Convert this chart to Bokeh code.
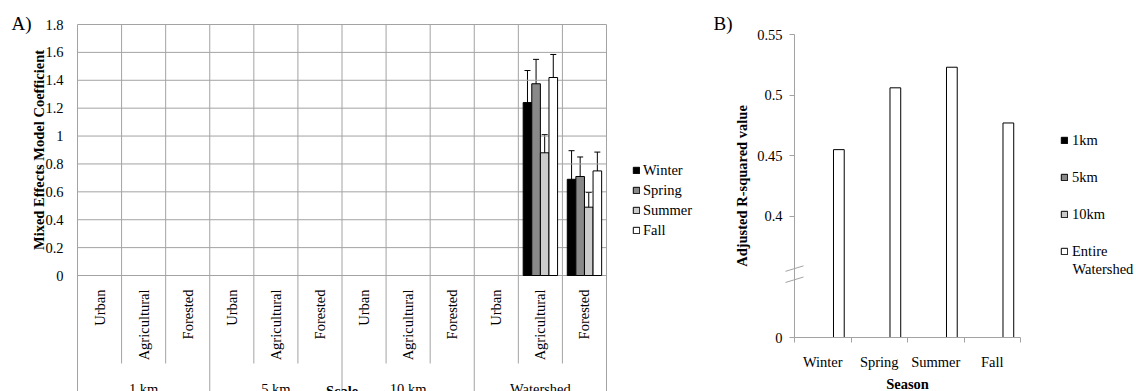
import math
from bokeh.plotting import figure
from bokeh.models import (Range1d, FixedTicker, PrintfTickFormatter, ColumnDataSource,
                          Whisker, TeeHead, Legend, LegendItem)
from bokeh.core.properties import value
from bokeh.layouts import row
from bokeh.embed import file_html
from bokeh.resources import INLINE

NAN = float("nan")

# ---------------- Data: panel A ----------------
scales = ["1 km", "5 km", "10 km", "Watershed"]
land_uses = ["Urban", "Agricultural", "Forested"]
seasons_a = ["Winter", "Spring", "Summer", "Fall"]
coef_winter = [None, None, None, None, None, None, None, None, None, None, 1.24, 0.69]
coef_spring = [None, None, None, None, None, None, None, None, None, None, 1.375, 0.71]
coef_summer = [None, None, None, None, None, None, None, None, None, None, 0.88, 0.49]
coef_fall = [None, None, None, None, None, None, None, None, None, None, 1.42, 0.75]
err_winter = [None, None, None, None, None, None, None, None, None, None, 0.23, 0.205]
err_spring = [None, None, None, None, None, None, None, None, None, None, 0.175, 0.14]
err_summer = [None, None, None, None, None, None, None, None, None, None, 0.13, 0.105]
err_fall = [None, None, None, None, None, None, None, None, None, None, 0.165, 0.135]
y_ticks_a = [0, 0.2, 0.4, 0.6, 0.8, 1.0, 1.2, 1.4, 1.6, 1.8]
title_a = "Mixed Effects Model Coefficient"
xtitle_a = "Scale"

# ---------------- Data: panel B ----------------
seasons_b = ["Winter", "Spring", "Summer", "Fall"]
scale_series = ["1km", "5km", "10km", "Entire"]
scale_series_line2 = ["", "", "", "Watershed"]
r2_1km = [None, None, None, None]
r2_5km = [None, None, None, None]
r2_10km = [None, None, None, None]
r2_watershed = [0.455, 0.506, 0.523, 0.477]
y_ticks_b = [0.3, 0.4, 0.45, 0.5, 0.55]
y_tick_labels_b = ["0", "0.4", "0.45", "0.5", "0.55"]
axis_floor_b = 0.3
axis_top_b = 0.55
break_value_b = 0.35
title_b = "Adjusted R-squared value"
xtitle_b = "Season"

# ---------------- Style ----------------
FONT = "Liberation Serif"
FS = "14.5px"
GRID = "#a3a3a3"
FILLS = ["#000000", "#898989", "#cbcbcb", "#ffffff"]
H = 391


def num(v):
    return NAN if v is None else v


def style_axis_text(ax):
    ax.major_label_text_font = FONT
    ax.major_label_text_font_size = FS
    ax.major_label_text_color = "black"


def bare_figure(w, xr, yr):
    p = figure(width=w, height=H, x_range=xr, y_range=yr, output_backend="svg",
               toolbar_location=None, min_border=0)
    p.title.visible = False
    p.outline_line_color = None
    p.grid.visible = False
    return p


TXT = dict(text_font=value(FONT), text_font_size=value(FS), text_color="black")

# ================= Panel A =================
A_W = 705
A_X0, A_X1 = 77, 606      # pixel of first / last category edge
A_Y0, A_Y1 = 275, 24      # pixel of value 0 / top tick
n_cat = len(scales) * len(land_uses)
kx = (A_X1 - A_X0) / n_cat
ky = (A_Y0 - A_Y1) / y_ticks_a[-1]


def xa_(px):
    return (px - A_X0) / kx


def ya_(py):
    return (A_Y0 - py) / ky


cat_labels = [lu for s in scales for lu in land_uses]
centers = [i + 0.5 for i in range(n_cat)]

pa = bare_figure(A_W, Range1d(xa_(0), xa_(A_W)), Range1d(ya_(H), ya_(0)))

# gridlines: horizontal at ticks, vertical at category edges (extending below as separators)
pa.segment(x0=0, x1=n_cat, y0=y_ticks_a, y1=y_ticks_a, line_color=GRID, line_width=1)
edges = list(range(n_cat + 1))
edge_end = [ya_(H + 5) if e % len(land_uses) == 0 else ya_(363) for e in edges]
pa.segment(x0=edges, x1=edges, y0=[y_ticks_a[-1]] * len(edges), y1=edge_end,
           line_color=GRID, line_width=1)

xa = pa.xaxis[0]
xa.fixed_location = 0
xa.visible = False

ya = pa.yaxis[0]
ya.fixed_location = 0
ya.ticker = FixedTicker(ticks=y_ticks_a)
ya.formatter = PrintfTickFormatter(format="%g")
ya.axis_line_color = None
ya.major_tick_out = 0
ya.major_tick_in = 0
ya.minor_tick_out = 0
ya.minor_tick_in = 0
ya.major_label_standoff = 14
style_axis_text(ya)

# category labels (rotated) under the axis
pa.text(x=centers, y=[ya_(289)] * n_cat, text=cat_labels, angle=math.pi / 2,
        text_align="right", text_baseline="middle", **TXT)

bar_w_a = 0.195
items_a = []
for k, (name, vals, errs) in enumerate(zip(seasons_a,
                                           [coef_winter, coef_spring, coef_summer, coef_fall],
                                           [err_winter, err_spring, err_summer, err_fall])):
    off = (k - 1.5) * bar_w_a
    idx = [i for i, v in enumerate(vals) if v is not None]
    src = ColumnDataSource(dict(
        x=[centers[i] + off for i in idx],
        top=[vals[i] for i in idx],
        lo=[vals[i] - errs[i] for i in idx],
        hi=[vals[i] + errs[i] for i in idx],
    ))
    r = pa.vbar(x="x", top="top", bottom=0, width=bar_w_a, source=src,
                fill_color=FILLS[k], line_color="black", line_width=1)
    pa.add_layout(Whisker(base="x", lower="lo", upper="hi", source=src,
                          line_color="black", line_width=1,
                          upper_head=TeeHead(size=6, line_color="black", line_width=1),
                          lower_head=TeeHead(size=6, line_color="black", line_width=1)))
    items_a.append(LegendItem(label=name, renderers=[r]))

leg_a = Legend(items=items_a, location=(632, 151), orientation="vertical",
               glyph_width=8, glyph_height=8, label_height=20, spacing=0, padding=0, margin=0,
               label_standoff=3, border_line_color=None, background_fill_alpha=0,
               label_text_font=FONT, label_text_font_size=FS, label_text_color="black")
pa.add_layout(leg_a)

# group labels, axis titles and panel tag
grp_x = [g * len(land_uses) + len(land_uses) / 2 for g in range(len(scales))]
pa.text(x=grp_x, y=[ya_(388)] * len(scales), text=scales, text_align="center",
        text_baseline="middle", **TXT)
pa.text(x=[n_cat / 2], y=[ya_(390)], text=[xtitle_a], text_align="center",
        text_baseline="middle", text_font_style="bold", **TXT)
pa.text(x=[xa_(38)], y=[ya_((A_Y0 + A_Y1) / 2)], text=[title_a], angle=math.pi / 2,
        text_align="center", text_baseline="middle", text_font_style="bold", **TXT)
pa.text(x=[xa_(11)], y=[ya_(23)], text=["A)"], text_align="left", text_baseline="middle",
        text_font=value(FONT), text_font_size=value("19px"), text_color="black")

# ================= Panel B =================
B_W = 1136 - A_W
B_OFF = A_W
B_X0, B_X1 = 794 - B_OFF, 1020 - B_OFF   # pixel of first / last season edge
B_Y0, B_Y1 = 337, 34                      # pixel of axis floor / top tick
n_b = len(seasons_b)
bkx = (B_X1 - B_X0) / n_b
bky = (B_Y0 - B_Y1) / (axis_top_b - axis_floor_b)


def xb_(px):
    return (px - B_OFF - B_X0) / bkx


def yb_(py):
    return axis_floor_b + (B_Y0 - py) / bky


centers_b = [i + 0.5 for i in range(n_b)]
pb = bare_figure(B_W, Range1d(xb_(B_OFF), xb_(1136)), Range1d(yb_(H), yb_(0)))

xb = pb.xaxis[0]
xb.fixed_location = axis_floor_b
xb.bounds = (0, n_b)
xb.ticker = FixedTicker(ticks=centers_b, minor_ticks=list(range(n_b + 1)))
xb.major_label_overrides = {c: s for c, s in zip(centers_b, seasons_b)}
xb.major_tick_out = 0
xb.major_tick_in = 0
xb.minor_tick_out = 5
xb.minor_tick_in = 0
xb.minor_tick_line_color = GRID
xb.axis_line_color = GRID
xb.major_label_standoff = 11
style_axis_text(xb)

yb = pb.yaxis[0]
yb.fixed_location = 0
yb.bounds = (axis_floor_b, axis_top_b)
yb.ticker = FixedTicker(ticks=y_ticks_b)
yb.major_label_overrides = dict(zip(y_ticks_b, y_tick_labels_b))
yb.major_tick_out = 5
yb.major_tick_in = 0
yb.minor_tick_out = 0
yb.minor_tick_in = 0
yb.major_tick_line_color = GRID
yb.axis_line_color = GRID
yb.major_label_standoff = 7
style_axis_text(yb)

bar_w_b = 0.19
items_b = []
for k, (name, vals) in enumerate(zip(scale_series, [r2_1km, r2_5km, r2_10km, r2_watershed])):
    off = (k - 1.5) * bar_w_b
    src = ColumnDataSource(dict(x=[c + off for c in centers_b], top=[num(v) for v in vals]))
    r = pb.vbar(x="x", top="top", bottom=axis_floor_b, width=bar_w_b, source=src,
                fill_color=FILLS[k], line_color="black", line_width=1)
    items_b.append(LegendItem(label=name, renderers=[r]))

leg_b = Legend(items=items_b, location=(1060 - B_OFF, 130), orientation="vertical",
               glyph_width=8, glyph_height=8, label_height=20, spacing=17, padding=0, margin=0,
               label_standoff=4, border_line_color=None, background_fill_alpha=0,
               label_text_font=FONT, label_text_font_size=FS, label_text_color="black")
pb.add_layout(leg_b)
# second line of the last legend label
pb.text(x=[xb_(1072)], y=[yb_(268.5)], text=[scale_series_line2[-1]], text_align="left",
        text_baseline="middle", **TXT)

# axis break marks on the y axis
gap = 0.0046
rise = 0.0045
half = 9 / bkx
for base in (break_value_b + gap, break_value_b - gap):
    pb.segment(x0=[-half], x1=[half], y0=[base], y1=[base + rise], line_color=GRID, line_width=1)

pb.text(x=[xb_(741)], y=[yb_((B_Y0 + B_Y1) / 2)], text=[title_b], angle=math.pi / 2,
        text_align="center", text_baseline="middle", text_font_style="bold", **TXT)
pb.text(x=[n_b / 2], y=[yb_(383)], text=[xtitle_b], text_align="center",
        text_baseline="middle", text_font_style="bold", **TXT)
pb.text(x=[xb_(713)], y=[yb_(23)], text=["B)"], text_align="left", text_baseline="middle",
        text_font=value(FONT), text_font_size=value("19px"), text_color="black")

layout = row(pa, pb)
open("out.html", "w").write(file_html(layout, INLINE))
